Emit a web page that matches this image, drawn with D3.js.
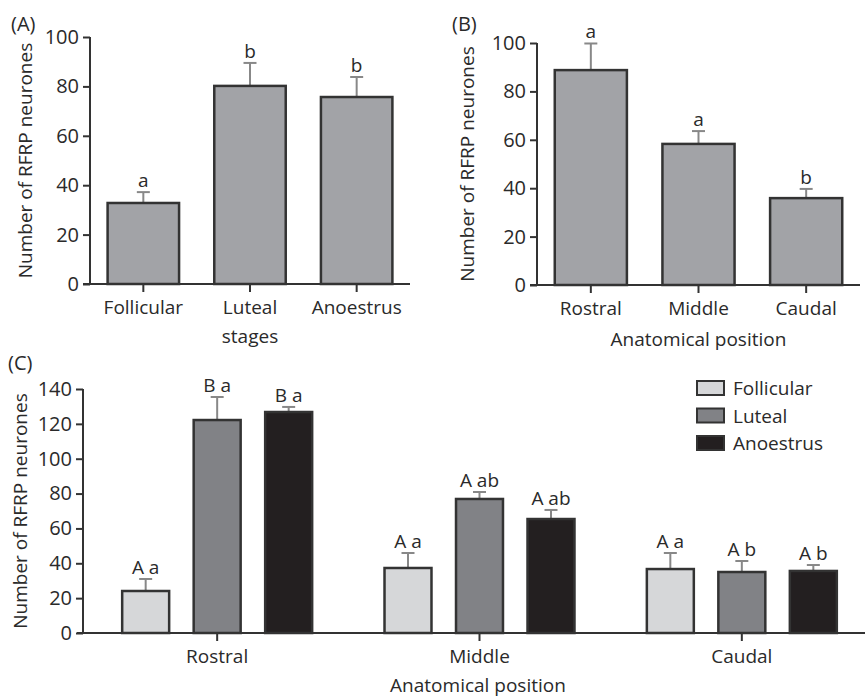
<!DOCTYPE html>
<html lang="en">
<head>
<meta charset="utf-8">
<title>RFRP neurones</title>
<script src="https://d3js.org/d3.v7.min.js"></script>
<style>
  body { margin: 0; background: #fff; }
  svg text { font-family: "Open Sans", "Noto Sans", sans-serif; fill: #2a2a2a; }
</style>
</head>
<body>
<svg id="chart"></svg>
<script>
// panel A: by stage
var stagesA = ["Follicular", "Luteal", "Anoestrus"];
var meanA = [32.8, 80.2, 75.7];
var errA = [37.2, 89.5, 83.8];
var letterA = ["a", "b", "b"];

// panel B: by position
var positionsB = ["Rostral", "Middle", "Caudal"];
var meanB = [88.8, 58.3, 35.9];
var errB = [99.8, 63.6, 39.7];
var letterB = ["a", "a", "b"];

// panel C: position x stage
var positionsC = ["Rostral", "Middle", "Caudal"];
var seriesC = ["Follicular", "Luteal", "Anoestrus"];
var meanC = [[24.1, 122.2, 126.8], [37.3, 76.9, 65.4], [36.7, 35.0, 35.6]];
var errC = [[31.0, 135.4, 129.7], [45.9, 80.9, 70.6], [45.9, 41.3, 39.0]];
var letterC = [["A a", "B a", "B a"], ["A a", "A ab", "A ab"], ["A a", "A b", "A b"]];

var ticksAB = [0, 20, 40, 60, 80, 100];
var ticksC = [0, 20, 40, 60, 80, 100, 120, 140];
var colorsC = ["#d6d7d9", "#818286", "#231f20"];
var greyAB = "#a2a3a7";

var width = 865, height = 699;
var svg = d3.select("#chart").attr("width", width).attr("height", height);

var axisColor = "#333";
var errColor = "#888";
var fs = 19, tickFs = 20;

function yAxis(g, y, ticks, x0) {
  var ax = g.append("g").attr("transform", "translate(" + x0 + ",0)")
    .call(d3.axisLeft(y).tickValues(ticks).tickSize(7).tickPadding(4).tickFormat(d3.format("d")));
  ax.select(".domain").attr("stroke", axisColor).attr("stroke-width", 2)
    .attr("d", "M0," + y(ticks[ticks.length - 1]) + "V" + y(0));
  ax.selectAll(".tick line").attr("stroke", axisColor).attr("stroke-width", 2);
  ax.selectAll(".tick text").attr("font-size", tickFs).attr("fill", "#2a2a2a");
}

function errBar(g, x, yTop, yBase) {
  g.append("line").attr("x1", x).attr("x2", x).attr("y1", yTop).attr("y2", yBase)
    .attr("stroke", errColor).attr("stroke-width", 2);
  g.append("line").attr("x1", x - 6.5).attr("x2", x + 6.5).attr("y1", yTop).attr("y2", yTop)
    .attr("stroke", errColor).attr("stroke-width", 2);
}

function simplePanel(opt) {
  var g = svg.append("g");
  var y = d3.scaleLinear().domain([0, 100]).range(opt.yRange);
  var x = d3.scaleBand().domain(opt.cats).range(opt.xRange).paddingInner(0.33).paddingOuter(0.165);

  // bars
  opt.cats.forEach(function(c, i) {
    errBar(g, x(c) + x.bandwidth() / 2, y(opt.err[i]), y(opt.mean[i]));
  });
  g.selectAll("rect.bar").data(opt.cats).enter().append("rect")
    .attr("x", function(d) { return x(d); })
    .attr("y", function(d, i) { return y(opt.mean[i]); })
    .attr("width", x.bandwidth())
    .attr("height", function(d, i) { return y(0) - y(opt.mean[i]); })
    .attr("fill", greyAB).attr("stroke", axisColor).attr("stroke-width", 2.5);

  g.selectAll("text.sig").data(opt.cats).enter().append("text")
    .attr("x", function(d) { return x(d) + x.bandwidth() / 2; })
    .attr("y", function(d, i) { return y(opt.err[i]) - 5; })
    .attr("text-anchor", "middle").attr("font-size", fs)
    .text(function(d, i) { return opt.letters[i]; });

  // x axis
  var xa = g.append("g").attr("transform", "translate(0," + y(0) + ")")
    .call(d3.axisBottom(x).tickSize(8).tickPadding(9));
  xa.select(".domain").attr("stroke", axisColor).attr("stroke-width", 2)
    .attr("d", "M" + (opt.xRange[0] - 7) + ",0H" + opt.xRange[1]);
  xa.selectAll(".tick line").attr("stroke", axisColor).attr("stroke-width", 2);
  xa.selectAll(".tick text").attr("font-size", fs).attr("fill", "#2a2a2a");

  yAxis(g, y, ticksAB, opt.xRange[0]);

  g.append("text").attr("transform", "translate(" + opt.titleX + "," + ((opt.yRange[0] + opt.yRange[1]) / 2) + ") rotate(-90)")
    .attr("text-anchor", "middle").attr("font-size", fs).text("Number of RFRP neurones");
  g.append("text").attr("x", (opt.xRange[0] + opt.xRange[1]) / 2).attr("y", opt.xTitleY)
    .attr("text-anchor", "middle").attr("font-size", fs).text(opt.xTitle);
  g.append("text").attr("x", opt.tagX).attr("y", 31).attr("font-size", 20).text(opt.tag);
}

simplePanel({
  cats: stagesA, mean: meanA, err: errA, letters: letterA,
  xRange: [90, 410], yRange: [284, 37],
  titleX: 32, xTitle: "stages", xTitleY: 343, tag: "(A)", tagX: 11
});
simplePanel({
  cats: positionsB, mean: meanB, err: errB, letters: letterB,
  xRange: [537, 860], yRange: [285, 43],
  titleX: 474, xTitle: "Anatomical position", xTitleY: 346, tag: "(B)", tagX: 452
});

// panel C
var gC = svg.append("g");
var yC = d3.scaleLinear().domain([0, 140]).range([633, 389]);
var x0 = d3.scaleBand().domain(positionsC).range([86, 873]);
var x1 = d3.scaleBand().domain(seriesC).range([-107.25, 107.25]).paddingInner(0.343).paddingOuter(0.1715);

positionsC.forEach(function(p, i) {
  var cx = x0(p) + x0.bandwidth() / 2;
  seriesC.forEach(function(s, j) {
    var bx = cx + x1(s);
    errBar(gC, bx + x1.bandwidth() / 2, yC(errC[i][j]), yC(meanC[i][j]));
    gC.append("rect").attr("x", bx).attr("y", yC(meanC[i][j]))
      .attr("width", x1.bandwidth()).attr("height", yC(0) - yC(meanC[i][j]))
      .attr("fill", colorsC[j]).attr("stroke", axisColor).attr("stroke-width", 2.5);
    gC.append("text").attr("x", bx + x1.bandwidth() / 2).attr("y", yC(errC[i][j]) - 5)
      .attr("text-anchor", "middle").attr("font-size", fs).text(letterC[i][j]);
  });
});

var xaC = gC.append("g").attr("transform", "translate(0," + yC(0) + ")")
  .call(d3.axisBottom(x0).tickSize(8).tickPadding(9));
xaC.select(".domain").attr("stroke", axisColor).attr("stroke-width", 2).attr("d", "M77,0H865");
xaC.selectAll(".tick line").attr("stroke", axisColor).attr("stroke-width", 2);
xaC.selectAll(".tick text").attr("font-size", fs).attr("fill", "#2a2a2a");

yAxis(gC, yC, ticksC, 83);

gC.append("text").attr("transform", "translate(27," + ((633 + 389) / 2) + ") rotate(-90)")
  .attr("text-anchor", "middle").attr("font-size", fs).text("Number of RFRP neurones");
gC.append("text").attr("x", 478).attr("y", 692).attr("text-anchor", "middle").attr("font-size", fs)
  .text("Anatomical position");
gC.append("text").attr("x", 8).attr("y", 370).attr("font-size", 20).text("(C)");

// legend
var leg = gC.selectAll("g.leg").data(seriesC).enter().append("g")
  .attr("transform", function(d, i) { return "translate(697," + (388 + i * 27.5) + ")"; });
leg.append("rect").attr("x", 0).attr("y", -7).attr("width", 27).attr("height", 14)
  .attr("fill", function(d, i) { return colorsC[i]; }).attr("stroke", axisColor).attr("stroke-width", 2);
leg.append("text").attr("x", 36).attr("y", 7).attr("font-size", fs).text(function(d) { return d; });
</script>
</body>
</html>
